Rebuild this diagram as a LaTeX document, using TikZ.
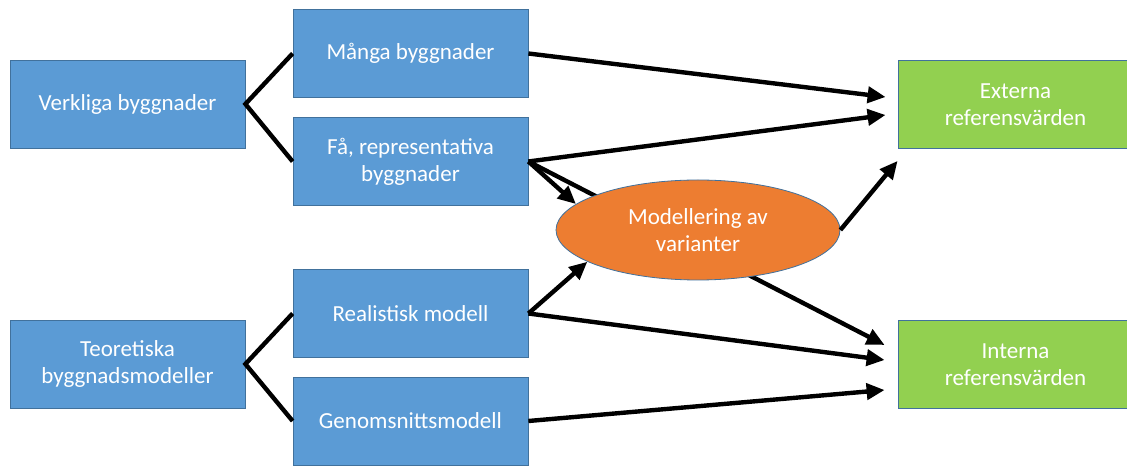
\documentclass[tikz,border=0pt]{standalone}
\usepackage{fontspec}
\setmainfont{Carlito}
\usetikzlibrary{arrows.meta,shapes.geometric}
\definecolor{kblue}{HTML}{5B9BD5}
\definecolor{kgreen}{HTML}{92D050}
\definecolor{korange}{HTML}{ED7D31}
\definecolor{kedge}{HTML}{41719C}

\begin{document}
\begin{tikzpicture}[x=0.5pt, y=0.5pt,
    every node/.style={font=\fontsize{11.5}{13.5}\selectfont, text=white, align=center},
    bluebox/.style={rectangle, fill=kblue, draw=kedge, line width=0.4pt,
        minimum width=117.5pt, minimum height=44pt, inner sep=0pt},
    greenbox/.style={bluebox, fill=kgreen},
    gren/.style={line width=2.2pt},
    pil/.style={line width=2.2pt, -{Triangle[length=9pt,width=8pt]}}
]
    \clip (0,0) rectangle (1127,465);
    \fill[white] (0,0) rectangle (1127,465);
    \node[bluebox] (vb) at (127.5, 361) {Verkliga byggnader};
    \node[bluebox] (tb) at (127.5, 101) {Teoretiska\\byggnadsmodeller};
    \node[bluebox] (mb) at (410.5, 411.5) {Många byggnader};
    \node[bluebox] (fb) at (410.5, 303.5) {Få, representativa\\byggnader};
    \node[bluebox] (rm) at (410.5, 151.5) {Realistisk modell};
    \node[bluebox] (gm) at (410.5, 44) {Genomsnittsmodell};
    \node[greenbox] (ext) at (1015.5, 360.5) {Externa\\referensvärden};
    \node[greenbox] (int) at (1015.5, 100.5) {Interna\\referensvärden};
    \draw[gren] (mb.west) -- (vb.east) -- (fb.west);
    \draw[gren] (rm.west) -- (tb.east) -- (gm.west);
    % goes behind the ellipse
    \draw[pil] (fb.east) -- ([shift={(-13,19.5)}]int.west);
    \node[ellipse, fill=korange, draw=kedge, line width=0.4pt,
        minimum width=142pt, minimum height=50pt, inner sep=0pt] (el) at (698, 235) {Modellering av\\varianter};
    \draw[pil] (mb.east) -- ([shift={(-12,7.5)}]ext.west);
    \draw[pil] (fb.east) -- ([shift={(-12,-10.5)}]ext.west);
    \draw[pil] (fb.east) -- (el.168);
    \draw[pil] (rm.east) -- (el.196);
    \draw[pil] (rm.east) -- ([shift={(-13,4.5)}]int.west);
    \draw[pil] (gm.east) -- ([shift={(-13,-25.5)}]int.west);
    \draw[pil] (el.east) -- ([shift={(0,-12)}]ext.south west);
\end{tikzpicture}
\end{document}
